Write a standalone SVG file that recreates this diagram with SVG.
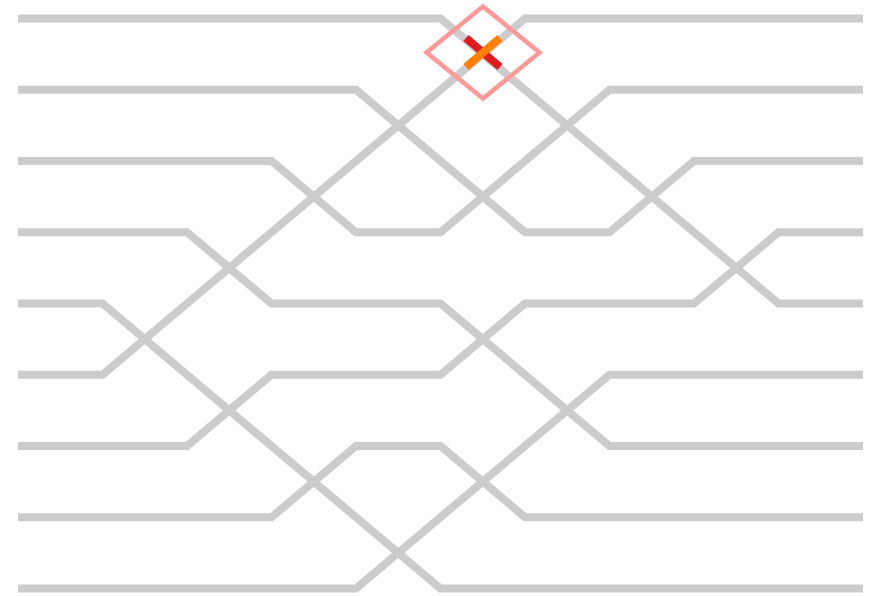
<svg xmlns="http://www.w3.org/2000/svg" width="877" height="596" viewBox="0 0 877 596">
<style>
.w{fill:none;stroke:#cccccc;stroke-width:8}
.hl{fill:none;stroke:#ff9999;stroke-width:4.5}
</style>
<rect width="877" height="596" fill="#ffffff"/>
<g id="connectors">
<path class="w" d="M18,18.5 H440.5 L778.5,303.5 H863"/>
<path class="w" d="M863,18.5 H525 L102.5,374.75 H18"/>
<path class="w" d="M18,89.75 H356 L525,232.25 H609.5 L694,161 H863"/>
<path class="w" d="M18,161 H271.5 L356,232.25 H440.5 L609.5,89.75 H863"/>
<path class="w" d="M18,232.25 H187 L271.5,303.5 H440.5 L609.5,446 H863"/>
<path class="w" d="M18,303.5 H102.5 L440.5,588.5 H863"/>
<path class="w" d="M18,446 H187 L271.5,374.75 H440.5 L525,303.5 H694 L778.5,232.25 H863"/>
<path class="w" d="M18,517.25 H271.5 L356,446 H440.5 L525,517.25 H863"/>
<path class="w" d="M18,588.5 H356 L609.5,374.75 H863"/>
</g>
<g id="highlight">
<path class="hl" d="M483,6.5 L539.5,52.5 L483,98.5 L426.5,52.5 Z"/>
<line x1="466" y1="38" x2="500" y2="67" stroke="#e31a1c" stroke-width="8"/>
<line x1="466" y1="67" x2="500" y2="38" stroke="#ff7f00" stroke-width="8"/>
</g>
</svg>
